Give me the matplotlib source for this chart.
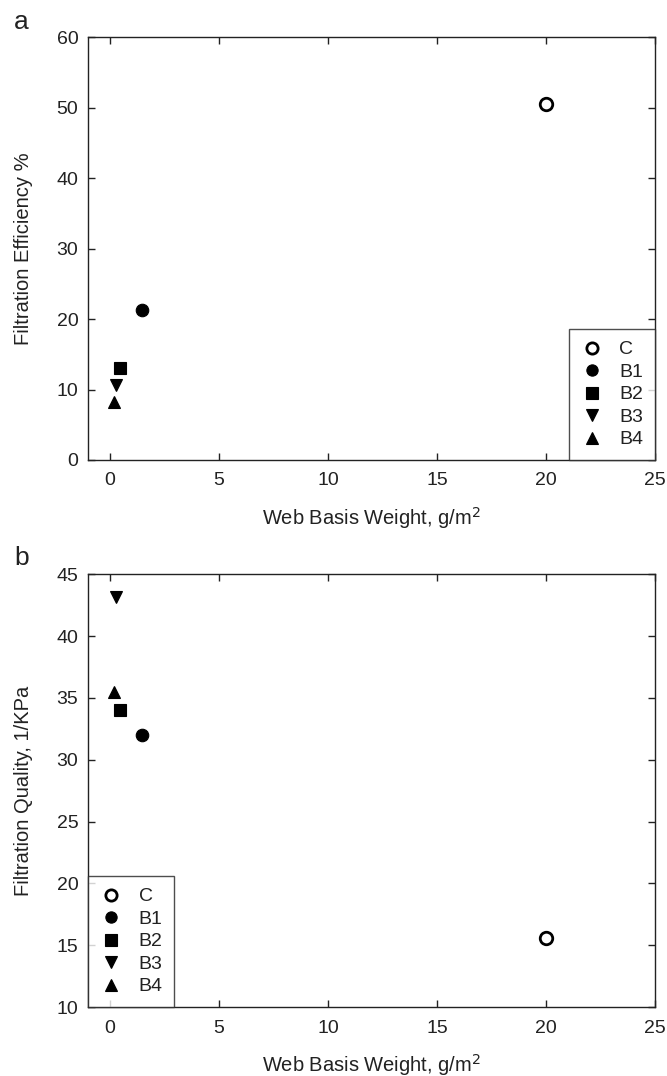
import matplotlib
matplotlib.use("Agg")
import matplotlib.pyplot as plt

plt.rcParams['font.family'] = ['Liberation Sans', 'DejaVu Sans']

# ------------------------------------------------------------
# Data
# ------------------------------------------------------------
labels = ["C", "B1", "B2", "B3", "B4"]
markers = ["o", "o", "s", "v", "^"]
basis_weight = [20.0, 1.47, 0.48, 0.3, 0.2]
efficiency = [50.6, 21.3, 13.0, 10.7, 8.2]
quality = [15.6, 32.0, 34.0, 43.2, 35.5]

ink = "#222222"

fig = plt.figure(figsize=(6.67, 10.76), dpi=100)
ax_a = fig.add_axes([0.132, 0.5725, 0.850, 0.3928])
ax_b = fig.add_axes([0.132, 0.0641, 0.850, 0.4022])


def draw(ax, yvals, ylabel, ylim, yticks, legend_loc):
    for x, y, lab, m in zip(basis_weight, yvals, labels, markers):
        face = "white" if lab == "C" else "black"
        ax.plot([x], [y], linestyle="none", marker=m, markersize=9,
                markerfacecolor=face, markeredgecolor="black",
                markeredgewidth=2 if lab == "C" else 0.8, label=lab)

    ax.set_xlim(-1, 25)
    ax.set_xticks([0, 5, 10, 15, 20, 25])
    ax.set_ylim(*ylim)
    ax.set_yticks(yticks)

    ax.tick_params(direction="in", top=True, right=True, length=5,
                   width=1, color=ink, labelsize=14, labelcolor=ink, pad=7)
    ax.tick_params(axis="x", pad=9)
    for sp in ax.spines.values():
        sp.set_color(ink)
        sp.set_linewidth(1)

    ax.set_xlabel("Web Basis Weight, g/m$^2$", fontsize=14.5, color=ink,
                  labelpad=11)
    ax.set_ylabel(ylabel, fontsize=14.5, color=ink)
    ax.yaxis.set_label_coords(-0.097, 0.5)

    leg = ax.legend(loc=legend_loc, frameon=True, fancybox=False,
                    borderaxespad=0, fontsize=14, handletextpad=0.8,
                    labelspacing=0.25, borderpad=0.6, handlelength=1.2,
                    markerscale=0.9)
    leg.get_frame().set_edgecolor(ink)
    leg.get_frame().set_linewidth(1)
    for t in leg.get_texts():
        t.set_color(ink)


draw(ax_a, efficiency, "Filtration Efficiency %", (0, 60),
     [0, 10, 20, 30, 40, 50, 60], "lower right")
draw(ax_b, quality, "Filtration Quality, 1/KPa", (10, 45),
     [10, 15, 20, 25, 30, 35, 40, 45], "lower left")

fig.text(0.021, 0.9796, "a", fontsize=19, color=ink, va="center")
fig.text(0.021, 0.4814, "b", fontsize=19, color=ink, va="center")

fig.savefig("out.png", dpi=100)
